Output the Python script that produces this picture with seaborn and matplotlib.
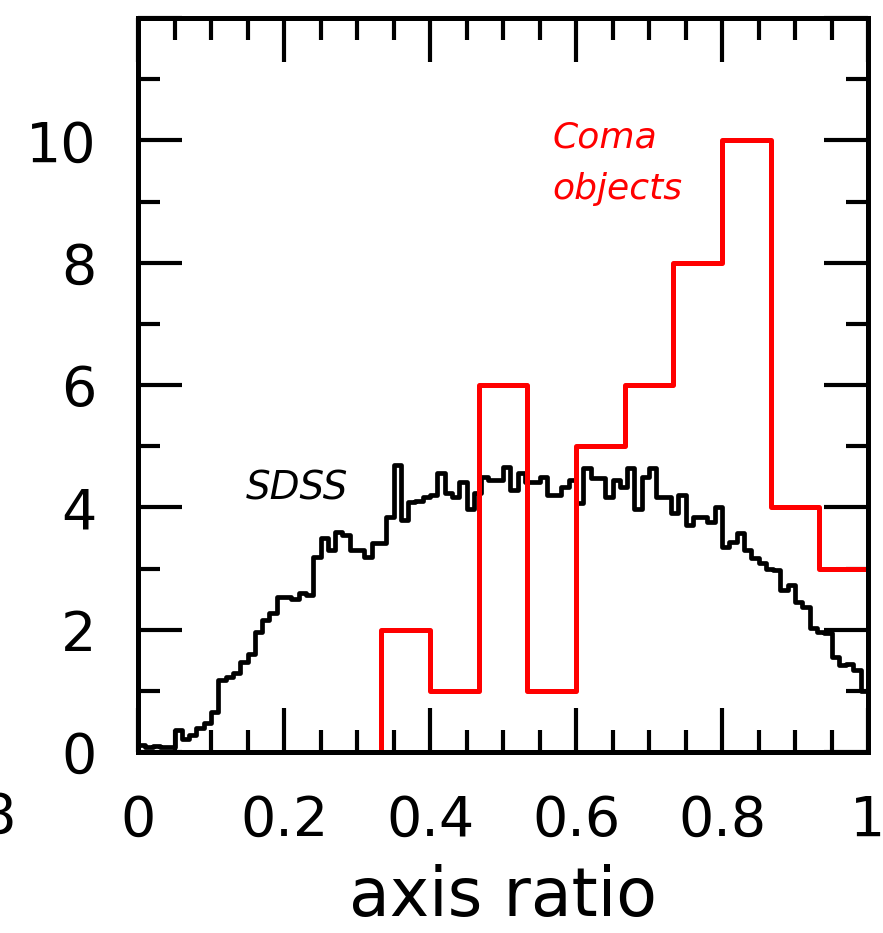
import numpy as np
import pandas as pd
import matplotlib
matplotlib.use("Agg")
import matplotlib.pyplot as plt
from matplotlib.ticker import MultipleLocator, FuncFormatter
import seaborn as sns

# SDSS axis-ratio distribution, 100 bins of width 0.01 over [0, 1]
sdss_values = [
    0.11, 0.08, 0.10, 0.08, 0.08, 0.36, 0.22, 0.28, 0.39, 0.47,
    0.65, 1.18, 1.22, 1.29, 1.47, 1.60, 1.96, 2.15, 2.27, 2.53,
    2.53, 2.50, 2.60, 2.56, 3.19, 3.50, 3.30, 3.60, 3.55, 3.30,
    3.30, 3.19, 3.42, 3.42, 3.85, 4.69, 3.80, 4.08, 4.10, 4.17,
    4.20, 4.56, 4.23, 4.17, 4.41, 3.98, 4.23, 4.50, 4.45, 4.45,
    4.66, 4.28, 4.56, 4.41, 4.41, 4.50, 4.20, 4.20, 4.33, 4.44,
    4.07, 4.64, 4.48, 4.48, 4.17, 4.44, 4.33, 4.64, 3.98, 4.50,
    4.64, 4.17, 4.17, 3.90, 4.20, 3.71, 3.85, 3.85, 3.76, 4.00,
    3.35, 3.43, 3.58, 3.30, 3.17, 3.09, 3.00, 2.97, 2.65, 2.73,
    2.45, 2.37, 2.03, 1.96, 1.94, 1.55, 1.42, 1.44, 1.34, 1.00,
]

# Coma objects, 15 bins of width 1/15 over [0, 1]
coma_counts = [0, 0, 0, 0, 0, 2, 1, 6, 1, 5, 6, 8, 10, 4, 3]

x_ticks = [0, 0.2, 0.4, 0.6, 0.8, 1.0]
y_ticks = [0, 2, 4, 6, 8, 10]

n_sdss = len(sdss_values)
n_coma = len(coma_counts)
sdss_df = pd.DataFrame({
    "ratio": (np.arange(n_sdss) + 0.5) / n_sdss,
    "weight": sdss_values,
})
coma_df = pd.DataFrame({
    "ratio": (np.arange(n_coma) + 0.5) / n_coma,
    "weight": coma_counts,
})

sns.set_style("ticks")
plt.rcParams["font.family"] = ["DejaVu Sans"]
plt.rcParams["text.color"] = "black"
plt.rcParams["axes.labelcolor"] = "black"
plt.rcParams["xtick.color"] = "black"
plt.rcParams["ytick.color"] = "black"

fig = plt.figure(figsize=(8.83, 9.33), dpi=100)
ax = fig.add_axes([138 / 883, (933 - 752) / 933, 730 / 883, 734 / 933])

sns.histplot(data=sdss_df, x="ratio", weights="weight", bins=n_sdss,
             binrange=(0, 1), element="step", fill=False, color="black",
             linewidth=3.4, ax=ax)
sns.histplot(data=coma_df, x="ratio", weights="weight", bins=n_coma,
             binrange=(0, 1), element="step", fill=False, color="#ff0000",
             linewidth=3.6, ax=ax)

ax.set_xlim(0, 1)
ax.set_ylim(0, 12)
ax.set_ylabel("")
ax.set_xticks(x_ticks)
ax.set_yticks(y_ticks + [12])
ax.xaxis.set_minor_locator(MultipleLocator(0.05))
ax.yaxis.set_minor_locator(MultipleLocator(1))
ax.xaxis.set_major_formatter(FuncFormatter(lambda v, p: f"{v:g}"))
ax.yaxis.set_major_formatter(FuncFormatter(lambda v, p: "" if v > 11 else f"{v:g}"))

for side in ["left", "right", "top", "bottom"]:
    ax.spines[side].set_visible(True)
    ax.spines[side].set_linewidth(3.6)
    ax.spines[side].set_color("black")

ax.tick_params(which="both", direction="in", top=True, right=True,
               width=3.0, color="black", labelcolor="black")
ax.tick_params(which="major", length=32, labelsize=40, pad=30)
ax.tick_params(which="minor", length=16)

ax.set_xlabel("axis ratio", fontsize=48, labelpad=12, color="black")

ax.text(0.568, 10.05, "Coma", color="#ff0000", fontsize=26, style="italic",
        ha="left", va="center")
ax.text(0.568, 9.2, "objects", color="#ff0000", fontsize=26, style="italic",
        ha="left", va="center")
ax.text(0.147, 4.31, "SDSS", color="black", fontsize=28, style="italic",
        ha="left", va="center")

# label of the neighbouring panel, cut by the figure edge
fig.text(16 / 883, 1 - 818 / 933, "8", fontsize=40, ha="right", va="center",
         color="black")

fig.savefig("out.png", dpi=100)
